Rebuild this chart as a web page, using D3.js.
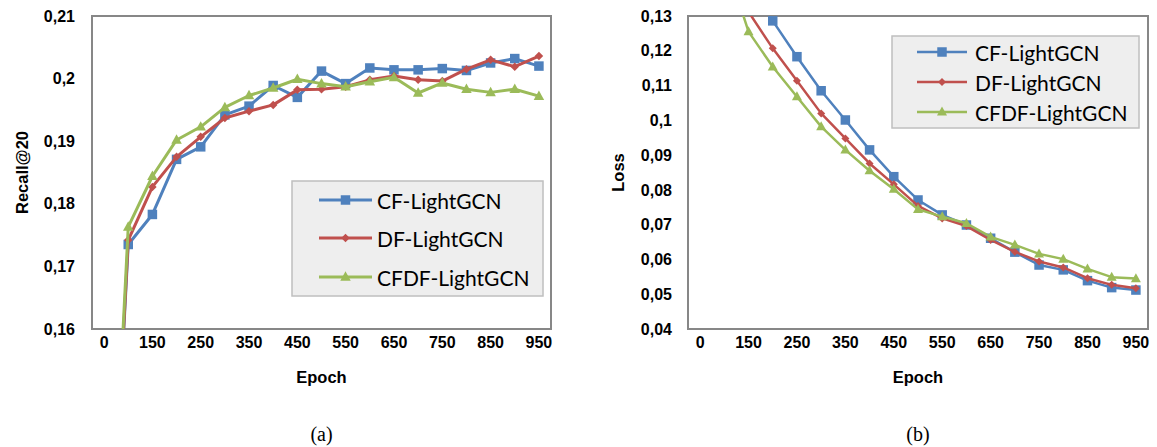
<!DOCTYPE html>
<html><head><meta charset="utf-8">
<script src="https://cdn.jsdelivr.net/npm/d3@7"></script>
<style>
html,body{margin:0;padding:0;background:#fff;}
svg{display:block;}
</style>
</head><body>
<svg id="chart" width="1157" height="447"></svg>
<script>
// ---------- data ----------
const epochs = [0,100,150,200,250,300,350,400,450,500,550,600,650,700,750,800,850,900,950];
const xTickLabels = ["0","150","250","350","450","550","650","750","850","950"];
const seriesNames = ["CF-LightGCN","DF-LightGCN","CFDF-LightGCN"];

const recallCF   = [0.100,0.1735,0.1783,0.1871,0.1891,0.1942,0.1956,0.1989,0.1970,0.2012,0.1992,0.2017,0.2014,0.2014,0.2016,0.2013,0.2025,0.2032,0.2020];
const recallDF   = [0.100,0.1742,0.1827,0.1875,0.1907,0.1937,0.1948,0.1958,0.1982,0.1983,0.1987,0.1998,0.2004,0.1998,0.1996,0.2015,0.2030,0.2019,0.2036];
const recallCFDF = [0.100,0.1763,0.1844,0.1902,0.1923,0.1954,0.1973,0.1985,0.1999,0.1992,0.1987,0.1995,0.2002,0.1977,0.1993,0.1983,0.1978,0.1983,0.1972];
const recallYTicks = [0.16,0.17,0.18,0.19,0.20,0.21];

const lossCF   = [0.300,0.160,0.1415,0.1286,0.1183,0.1085,0.1001,0.0915,0.0838,0.0771,0.0728,0.0699,0.0661,0.0621,0.0584,0.0570,0.0539,0.0519,0.0512];
const lossDF   = [0.300,0.145,0.1312,0.1207,0.1114,0.1020,0.0948,0.0876,0.0816,0.0754,0.0718,0.0696,0.0656,0.0622,0.0594,0.0577,0.0546,0.0527,0.0517];
const lossCFDF = [0.300,0.147,0.1255,0.1154,0.1068,0.0982,0.0915,0.0855,0.0802,0.0744,0.0723,0.0704,0.0665,0.0642,0.0616,0.0601,0.0573,0.0549,0.0545];
const lossYTicks = [0.04,0.05,0.06,0.07,0.08,0.09,0.10,0.11,0.12,0.13];

// ---------- style ----------
const colors = ["#4F81BD","#C0504D","#9BBB59"];
const symbols = ["square","diamond","triangle"];
const fmt = d3.formatLocale({decimal:",",thousands:".",grouping:[3],currency:["","€"]}).format("~g");

const svg = d3.select("#chart");

function markerPath(type, s){
  if(type==="square") return d3.symbol(d3.symbolSquare, s*s)();
  if(type==="diamond"){ const r=s/2; return `M0,${-r}L${r},0L0,${r}L${-r},0Z`; }
  const h = s*0.9, w = s; // triangle pointing up
  return `M0,${-h*0.6}L${w/2},${h*0.4}L${-w/2},${h*0.4}Z`;
}

function drawChart(cfg){
  const g = svg.append("g");
  const {left,right,top,bottom} = cfg;
  const x = d3.scaleBand().domain(epochs).range([left,right]).paddingInner(0).paddingOuter(0);
  const cx = e => x(e) + x.bandwidth()/2;
  const y = d3.scaleLinear().domain(cfg.yDomain).range([bottom,top]);

  const clipId = "clip"+cfg.id;
  svg.append("defs").append("clipPath").attr("id",clipId)
    .append("rect").attr("x",left).attr("y",top).attr("width",right-left).attr("height",bottom-top);

  // frame
  g.append("rect").attr("x",left).attr("y",top).attr("width",right-left).attr("height",bottom-top)
    .attr("fill","none").attr("stroke","#878787").attr("stroke-width",2);

  // y axis
  const ya = g.append("g").attr("transform",`translate(${left},0)`)
    .call(d3.axisLeft(y).tickValues(cfg.yTicks).tickFormat(fmt).tickSize(0).tickPadding(cfg.yPad));
  ya.select(".domain").remove();
  ya.selectAll("text").attr("font-family","'Liberation Sans',Arial,sans-serif").attr("font-weight","bold")
    .attr("font-size",16).attr("fill","#000");

  // x axis
  const xa = g.append("g").attr("transform",`translate(0,${bottom})`)
    .call(d3.axisBottom(x).tickValues(epochs.filter(e=>xTickLabels.includes(String(e)))).tickSize(0).tickPadding(8));
  xa.select(".domain").remove();
  xa.selectAll("text").attr("font-family","'Liberation Sans',Arial,sans-serif").attr("font-weight","bold")
    .attr("font-size",16).attr("fill","#000");

  // titles
  g.append("text").attr("x",(left+right)/2).attr("y",383).attr("text-anchor","middle")
    .attr("font-family","'Liberation Sans',Arial,sans-serif").attr("font-weight","bold").attr("font-size",16.5)
    .text("Epoch");
  g.append("text").attr("transform",`translate(${cfg.yTitleX},${(top+bottom)/2}) rotate(-90)`)
    .attr("text-anchor","middle").attr("dominant-baseline","central")
    .attr("font-family","'Liberation Sans',Arial,sans-serif").attr("font-weight","bold").attr("font-size",16.5)
    .text(cfg.yTitle);
  g.append("text").attr("x",(left+right)/2 + cfg.capDx).attr("y",441).attr("text-anchor","middle")
    .attr("font-family","'Liberation Serif','Times New Roman',serif").attr("font-size",20)
    .text(cfg.caption);

  // series
  const plot = g.append("g").attr("clip-path",`url(#${clipId})`);
  cfg.series.forEach((vals,i)=>{
    const pts = epochs.map((e,j)=>[cx(e), y(vals[j])]);
    plot.append("path").attr("d",d3.line()(pts)).attr("fill","none")
      .attr("stroke",colors[i]).attr("stroke-width",cfg.lw).attr("stroke-linejoin","round");
    plot.selectAll(null).data(pts.slice(1)).join("path")
      .attr("transform",d=>`translate(${d[0]},${d[1]})`)
      .attr("d",markerPath(symbols[i], cfg.ms[i])).attr("fill",colors[i]);
  });

  // legend
  const L = cfg.legend;
  const lg = g.append("g");
  lg.append("rect").attr("x",L.x0).attr("y",L.y0).attr("width",L.x1-L.x0).attr("height",L.y1-L.y0)
    .attr("fill","#EEEEEE").attr("stroke","#BFBFBF").attr("stroke-width",1.5);
  seriesNames.forEach((name,i)=>{
    const yy = L.rows[i];
    lg.append("line").attr("x1",L.lx0).attr("x2",L.lx1).attr("y1",yy).attr("y2",yy)
      .attr("stroke",colors[i]).attr("stroke-width",cfg.lw);
    lg.append("path").attr("transform",`translate(${(L.lx0+L.lx1)/2},${yy})`)
      .attr("d",markerPath(symbols[i], cfg.ms[i])).attr("fill",colors[i]);
    lg.append("text").attr("x",L.tx).attr("y",yy).attr("dominant-baseline","central")
      .attr("font-family","Lato,'Open Sans',sans-serif").attr("font-size",21).attr("fill","#000")
      .text(name);
  });
}

drawChart({
  id:"a", left:92, right:551, top:16, bottom:329,
  yDomain:[0.16,0.21], yTicks:recallYTicks, yPad:17, yTitle:"Recall@20", yTitleX:22,
  caption:"(a)", capDx:0,
  series:[recallCF,recallDF,recallCFDF], lw:3, ms:[9.5,8.5,10.5],
  legend:{x0:292,x1:543,y0:181,y1:296,rows:[200,238,277],lx0:319,lx1:372,tx:377}
});

drawChart({
  id:"b", left:688, right:1148, top:16, bottom:329,
  yDomain:[0.04,0.13], yTicks:lossYTicks, yPad:16, yTitle:"Loss", yTitleX:618,
  caption:"(b)", capDx:0,
  series:[lossCF,lossDF,lossCFDF], lw:2.5, ms:[9.5,8,10],
  legend:{x0:892,x1:1139,y0:36,y1:128,rows:[52,82,112],lx0:917,lx1:967,tx:975}
});
</script>
</body></html>
